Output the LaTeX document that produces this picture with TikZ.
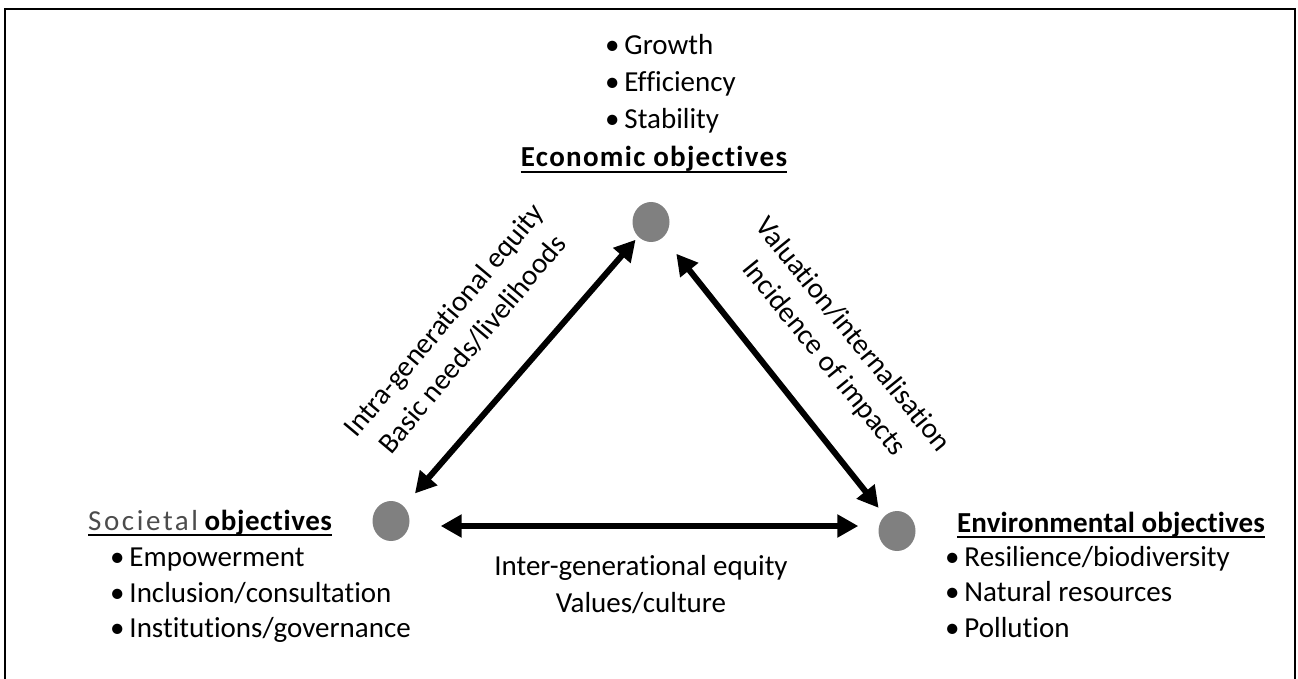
\documentclass[tikz,border=0pt]{standalone}
\usepackage{fontspec}
\setmainfont[Ligatures=NoCommon]{Carlito}
\usetikzlibrary{arrows.meta,shapes.geometric}

\begin{document}
\begin{tikzpicture}[x=1pt,y=-1pt,
    every node/.style={inner sep=0pt, font=\fontsize{29}{37}\selectfont},
    dot/.style={ellipse, fill=black!50, minimum width=37pt, minimum height=40pt},
    link/.style={line width=6pt, {Triangle[length=21pt,width=22pt]}-{Triangle[length=21pt,width=22pt]}},
    item/.style={anchor=base west},
    heading/.style={anchor=base west, font=\fontsize{29}{37}\selectfont\bfseries},
    edgelabel/.style={align=center}]
    \useasboundingbox (0,0) rectangle (1298,679);
    % frame, open at the bottom
    \draw[line width=2pt] (4.5,679) -- (4.5,9.5) -- (1294.5,9.5) -- (1294.5,679);

    \node[dot] (eco) at (651,222) {};
    \node[dot] (soc) at (391,521) {};
    \node[dot] (env) at (897,531) {};

    % economic
    \foreach \y/\txt in {55/Growth, 92/Efficiency, 129/Stability} {
        \node[item] (eco-\txt) at (605,\y) {\textbullet\,\txt};
    }
    \node[heading, anchor=base] (eco-title) at (654,167) {\addfontfeature{LetterSpace=4.5}Economic objectives};
    \draw[line width=2pt] (eco-title.south west) -- (eco-title.south east);

    % societal
    \node[heading] (soc-title) at (88,530) {{\mdseries\color{black!70}\addfontfeature{LetterSpace=9}Societal} \addfontfeature{LetterSpace=2}objectives};
    \draw[line width=2pt] (soc-title.south west) -- (soc-title.south east);
    \foreach \y/\txt in {566/Empowerment, 602/Inclusion\slash consultation, 637/Institutions\slash governance} {
        \node[item] (soc-\y) at (110,\y) {\textbullet\,\txt};
    }

    % environmental
    \node[heading] (env-title) at (957,532) {\addfontfeature{LetterSpace=0.5}Environmental objectives};
    \draw[line width=2pt] (env-title.south west) -- (env-title.south east);
    \foreach \y/\txt in {566/Resilience\slash biodiversity, 601/Natural resources, 637/Pollution} {
        \node[item] (env-\y) at (945,\y) {\textbullet\,\txt};
    }

    % links
    \draw[link, shorten <=4pt, shorten >=17pt] (eco) -- (soc);
    \draw[link, shorten <=21pt, shorten >=10pt] (eco) -- (env);
    \draw[link, shorten <=31pt, shorten >=20pt] ([yshift=-5pt]soc.east) -- ([yshift=5pt]env.west);

    \node[edgelabel, rotate=50] (lab-se) at (458,332) {Intra-generational equity\\Basic needs/livelihoods};
    \node[edgelabel, rotate=-51] (lab-ee) at (838,347) {Valuation/internalisation\\Incidence of impacts};
    \node[edgelabel] (lab-sv) at (641,585) {Inter-generational equity\\Values/culture};
\end{tikzpicture}
\end{document}
